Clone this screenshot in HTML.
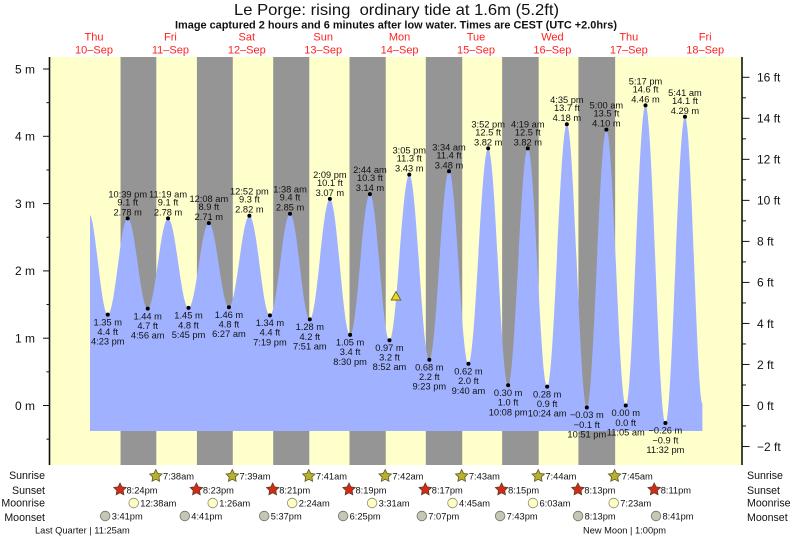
<!DOCTYPE html>
<html><head><meta charset="utf-8"><style>
html,body{margin:0;padding:0;background:#fff;}
svg{display:block;font-family:"Liberation Sans",Arial,sans-serif;}
.t{font-size:9.3px;fill:#111;text-anchor:middle;}
.e{font-size:9.3px;fill:#111;}
.ax{font-size:12px;fill:#111;}
.rl{font-size:10.6px;fill:#111;}
.d{font-size:11px;fill:#f22;text-anchor:middle;}
</style></head><body>
<svg width="793" height="539" viewBox="0 0 793 539" xmlns="http://www.w3.org/2000/svg">
<rect x="0" y="0" width="793" height="539" fill="#fff"/>
<text x="396.5" y="15" font-size="16" fill="#111" text-anchor="middle" textLength="325" lengthAdjust="spacingAndGlyphs">Le Porge: rising&#160; ordinary tide at 1.6m (5.2ft)</text>
<text x="396" y="28.7" font-size="10.6" font-weight="bold" fill="#111" text-anchor="middle" textLength="442" lengthAdjust="spacingAndGlyphs">Image captured 2 hours and 6 minutes after low water. Times are CEST (UTC +2.0hrs)</text>

<text class="d" x="94" y="40.7">Thu</text><text class="d" x="94" y="53.5">10–Sep</text>
<text class="d" x="170.4" y="40.7">Fri</text><text class="d" x="170.4" y="53.5">11–Sep</text>
<text class="d" x="246.8" y="40.7">Sat</text><text class="d" x="246.8" y="53.5">12–Sep</text>
<text class="d" x="323.2" y="40.7">Sun</text><text class="d" x="323.2" y="53.5">13–Sep</text>
<text class="d" x="399.6" y="40.7">Mon</text><text class="d" x="399.6" y="53.5">14–Sep</text>
<text class="d" x="476" y="40.7">Tue</text><text class="d" x="476" y="53.5">15–Sep</text>
<text class="d" x="552.4" y="40.7">Wed</text><text class="d" x="552.4" y="53.5">16–Sep</text>
<text class="d" x="628.8" y="40.7">Thu</text><text class="d" x="628.8" y="53.5">17–Sep</text>
<text class="d" x="705.2" y="40.7">Fri</text><text class="d" x="705.2" y="53.5">18–Sep</text>

<rect x="49.5" y="57" width="692.5" height="408" fill="#ffffcc"/>
<g fill="#959595">
<rect x="120.55" y="57" width="35.76" height="408"/>
<rect x="196.90" y="57" width="35.88" height="408"/>
<rect x="273.20" y="57" width="36.09" height="408"/>
<rect x="349.51" y="57" width="36.24" height="408"/>
<rect x="425.81" y="57" width="36.41" height="408"/>
<rect x="502.12" y="57" width="36.56" height="408"/>
<rect x="578.42" y="57" width="36.72" height="408"/>
</g>

<path fill="#a0b2ff" d="M90,431 L90,215 C95.3,219 101.29,314.64 107.76,314.64
C115.03,314.64 120.44,218.41 127.71,218.41
C135.00,218.41 140.43,308.59 147.72,308.59
C155.12,308.59 160.64,218.41 168.04,218.41
C175.50,218.41 181.06,307.91 188.52,307.91
C195.92,307.91 201.44,223.12 208.84,223.12
C216.16,223.12 221.63,307.24 228.95,307.24
C236.39,307.24 241.94,215.71 249.38,215.71
C256.86,215.71 262.44,315.32 269.92,315.32
C277.24,315.32 282.71,213.69 290.03,213.69
C297.24,213.69 302.61,319.36 309.82,319.36
C317.13,319.36 322.57,198.89 329.88,198.89
C337.24,198.89 342.74,334.83 350.10,334.83
C357.33,334.83 362.71,194.18 369.94,194.18
C377.05,194.18 382.36,340.22 389.47,340.22
C396.68,340.22 402.05,174.66 409.26,174.66
C416.57,174.66 422.01,359.74 429.32,359.74
C436.49,359.74 441.84,171.30 449.01,171.30
C456.08,171.30 461.36,363.77 468.43,363.77
C475.62,363.77 480.97,148.41 488.16,148.41
C495.43,148.41 500.85,385.31 508.12,385.31
C515.29,385.31 520.63,148.41 527.80,148.41
C534.85,148.41 540.12,386.66 547.17,386.66
C554.34,386.66 559.69,124.19 566.86,124.19
C574.13,124.19 579.54,407.52 586.81,407.52
C593.94,407.52 599.26,129.57 606.39,129.57
C613.44,129.57 618.71,405.5 625.76,405.5
C632.95,405.5 638.30,105.34 645.49,105.34
C652.74,105.34 658.14,423.0 665.39,423.0
C672.52,423.0 677.84,116.78 684.97,116.78
C691.6,116.78 696.6,401 702.4,403.5
L702.4,431 Z"/>

<line x1="49.5" y1="57" x2="49.5" y2="465" stroke="#111" stroke-width="1.6"/>
<line x1="742" y1="57" x2="742" y2="465" stroke="#111" stroke-width="1.6"/>
<g stroke="#111" stroke-width="1">
<line x1="43" y1="69.0" x2="49.5" y2="69.0"/><line x1="46.5" y1="102.65" x2="49.5" y2="102.65"/>
<line x1="43" y1="136.3" x2="49.5" y2="136.3"/><line x1="46.5" y1="169.95" x2="49.5" y2="169.95"/>
<line x1="43" y1="203.6" x2="49.5" y2="203.6"/><line x1="46.5" y1="237.25" x2="49.5" y2="237.25"/>
<line x1="43" y1="270.9" x2="49.5" y2="270.9"/><line x1="46.5" y1="304.55" x2="49.5" y2="304.55"/>
<line x1="43" y1="338.2" x2="49.5" y2="338.2"/><line x1="46.5" y1="371.85" x2="49.5" y2="371.85"/>
<line x1="43" y1="405.5" x2="49.5" y2="405.5"/><line x1="46.5" y1="439.15" x2="49.5" y2="439.15"/>

<line x1="742" y1="77.29" x2="749.5" y2="77.29"/><line x1="742" y1="97.81" x2="746" y2="97.81"/>
<line x1="742" y1="118.32" x2="749.5" y2="118.32"/><line x1="742" y1="138.83" x2="746" y2="138.83"/>
<line x1="742" y1="159.34" x2="749.5" y2="159.34"/><line x1="742" y1="179.86" x2="746" y2="179.86"/>
<line x1="742" y1="200.37" x2="749.5" y2="200.37"/><line x1="742" y1="220.88" x2="746" y2="220.88"/>
<line x1="742" y1="241.40" x2="749.5" y2="241.40"/><line x1="742" y1="261.91" x2="746" y2="261.91"/>
<line x1="742" y1="282.42" x2="749.5" y2="282.42"/><line x1="742" y1="302.94" x2="746" y2="302.94"/>
<line x1="742" y1="323.45" x2="749.5" y2="323.45"/><line x1="742" y1="343.96" x2="746" y2="343.96"/>
<line x1="742" y1="364.47" x2="749.5" y2="364.47"/><line x1="742" y1="384.99" x2="746" y2="384.99"/>
<line x1="742" y1="405.5" x2="749.5" y2="405.5"/><line x1="742" y1="426.01" x2="746" y2="426.01"/>
<line x1="742" y1="446.53" x2="749.5" y2="446.53"/>
</g>
<text class="ax" x="35" y="73.3" text-anchor="end">5 m</text>
<text class="ax" x="35" y="140.6" text-anchor="end">4 m</text>
<text class="ax" x="35" y="207.9" text-anchor="end">3 m</text>
<text class="ax" x="35" y="275.2" text-anchor="end">2 m</text>
<text class="ax" x="35" y="342.5" text-anchor="end">1 m</text>
<text class="ax" x="35" y="409.8" text-anchor="end">0 m</text>
<text class="ax" x="757" y="81.6">16 ft</text>
<text class="ax" x="757" y="122.6">14 ft</text>
<text class="ax" x="757" y="163.6">12 ft</text>
<text class="ax" x="757" y="204.7">10 ft</text>
<text class="ax" x="757" y="245.7">8 ft</text>
<text class="ax" x="757" y="286.7">6 ft</text>
<text class="ax" x="757" y="327.8">4 ft</text>
<text class="ax" x="757" y="368.8">2 ft</text>
<text class="ax" x="757" y="409.8">0 ft</text>
<text class="ax" x="757" y="450.8">−2 ft</text>

<g fill="#000">
<circle cx="107.76" cy="314.64" r="2"/><circle cx="127.71" cy="218.41" r="2"/>
<circle cx="147.72" cy="308.59" r="2"/><circle cx="168.04" cy="218.41" r="2"/>
<circle cx="188.52" cy="307.91" r="2"/><circle cx="208.84" cy="223.12" r="2"/>
<circle cx="228.95" cy="307.24" r="2"/><circle cx="249.38" cy="215.71" r="2"/>
<circle cx="269.92" cy="315.32" r="2"/><circle cx="290.03" cy="213.69" r="2"/>
<circle cx="309.82" cy="319.36" r="2"/><circle cx="329.88" cy="198.89" r="2"/>
<circle cx="350.10" cy="334.83" r="2"/><circle cx="369.94" cy="194.18" r="2"/>
<circle cx="389.47" cy="340.22" r="2"/><circle cx="409.26" cy="174.66" r="2"/>
<circle cx="429.32" cy="359.74" r="2"/><circle cx="449.01" cy="171.30" r="2"/>
<circle cx="468.43" cy="363.77" r="2"/><circle cx="488.16" cy="148.41" r="2"/>
<circle cx="508.12" cy="385.31" r="2"/><circle cx="527.80" cy="148.41" r="2"/>
<circle cx="547.17" cy="386.66" r="2"/><circle cx="566.86" cy="124.19" r="2"/>
<circle cx="586.81" cy="407.52" r="2"/><circle cx="606.39" cy="129.57" r="2"/>
<circle cx="625.76" cy="405.5" r="2"/><circle cx="645.49" cy="105.34" r="2"/>
<circle cx="665.39" cy="423.0" r="2"/><circle cx="684.97" cy="116.78" r="2"/>
</g>

<text class="t" x="127.71" y="197.4">10:39 pm</text><text class="t" x="127.71" y="205.4">9.1 ft</text><text class="t" x="127.71" y="215.4">2.78 m</text>
<text class="t" x="168.04" y="197.4">11:19 am</text><text class="t" x="168.04" y="205.4">9.1 ft</text><text class="t" x="168.04" y="215.4">2.78 m</text>
<text class="t" x="208.84" y="202.1">12:08 am</text><text class="t" x="208.84" y="210.1">8.9 ft</text><text class="t" x="208.84" y="220.1">2.71 m</text>
<text class="t" x="249.38" y="194.7">12:52 pm</text><text class="t" x="249.38" y="202.7">9.3 ft</text><text class="t" x="249.38" y="212.7">2.82 m</text>
<text class="t" x="290.03" y="192.7">1:38 am</text><text class="t" x="290.03" y="200.7">9.4 ft</text><text class="t" x="290.03" y="210.7">2.85 m</text>
<text class="t" x="329.88" y="177.9">2:09 pm</text><text class="t" x="329.88" y="185.9">10.1 ft</text><text class="t" x="329.88" y="195.9">3.07 m</text>
<text class="t" x="369.94" y="173.2">2:44 am</text><text class="t" x="369.94" y="181.2">10.3 ft</text><text class="t" x="369.94" y="191.2">3.14 m</text>
<text class="t" x="409.26" y="153.7">3:05 pm</text><text class="t" x="409.26" y="161.7">11.3 ft</text><text class="t" x="409.26" y="171.7">3.43 m</text>
<text class="t" x="449.01" y="150.3">3:34 am</text><text class="t" x="449.01" y="158.3">11.4 ft</text><text class="t" x="449.01" y="168.3">3.48 m</text>
<text class="t" x="488.16" y="127.4">3:52 pm</text><text class="t" x="488.16" y="135.4">12.5 ft</text><text class="t" x="488.16" y="145.4">3.82 m</text>
<text class="t" x="527.80" y="127.4">4:19 am</text><text class="t" x="527.80" y="135.4">12.5 ft</text><text class="t" x="527.80" y="145.4">3.82 m</text>
<text class="t" x="566.86" y="103.2">4:35 pm</text><text class="t" x="566.86" y="111.2">13.7 ft</text><text class="t" x="566.86" y="121.2">4.18 m</text>
<text class="t" x="606.39" y="108.6">5:00 am</text><text class="t" x="606.39" y="116.6">13.5 ft</text><text class="t" x="606.39" y="126.6">4.10 m</text>
<text class="t" x="645.49" y="84.3">5:17 pm</text><text class="t" x="645.49" y="92.3">14.6 ft</text><text class="t" x="645.49" y="102.3">4.46 m</text>
<text class="t" x="684.97" y="95.8">5:41 am</text><text class="t" x="684.97" y="103.8">14.1 ft</text><text class="t" x="684.97" y="113.8">4.29 m</text>

<text class="t" x="107.76" y="325.3">1.35 m</text><text class="t" x="107.76" y="335.0">4.4 ft</text><text class="t" x="107.76" y="344.6">4:23 pm</text>
<text class="t" x="147.72" y="319.3">1.44 m</text><text class="t" x="147.72" y="329.0">4.7 ft</text><text class="t" x="147.72" y="338.6">4:56 am</text>
<text class="t" x="188.52" y="318.6">1.45 m</text><text class="t" x="188.52" y="328.3">4.8 ft</text><text class="t" x="188.52" y="337.9">5:45 pm</text>
<text class="t" x="228.95" y="317.9">1.46 m</text><text class="t" x="228.95" y="327.6">4.8 ft</text><text class="t" x="228.95" y="337.2">6:27 am</text>
<text class="t" x="269.92" y="326.0">1.34 m</text><text class="t" x="269.92" y="335.7">4.4 ft</text><text class="t" x="269.92" y="345.3">7:19 pm</text>
<text class="t" x="309.82" y="330.1">1.28 m</text><text class="t" x="309.82" y="339.8">4.2 ft</text><text class="t" x="309.82" y="349.4">7:51 am</text>
<text class="t" x="350.10" y="345.5">1.05 m</text><text class="t" x="350.10" y="355.2">3.4 ft</text><text class="t" x="350.10" y="364.8">8:30 pm</text>
<text class="t" x="389.47" y="350.9">0.97 m</text><text class="t" x="389.47" y="360.6">3.2 ft</text><text class="t" x="389.47" y="370.2">8:52 am</text>
<text class="t" x="429.32" y="370.4">0.68 m</text><text class="t" x="429.32" y="380.1">2.2 ft</text><text class="t" x="429.32" y="389.7">9:23 pm</text>
<text class="t" x="468.43" y="374.5">0.62 m</text><text class="t" x="468.43" y="384.2">2.0 ft</text><text class="t" x="468.43" y="393.8">9:40 am</text>
<text class="t" x="508.12" y="396.0">0.30 m</text><text class="t" x="508.12" y="405.7">1.0 ft</text><text class="t" x="508.12" y="415.3">10:08 pm</text>
<text class="t" x="547.17" y="397.4">0.28 m</text><text class="t" x="547.17" y="407.1">0.9 ft</text><text class="t" x="547.17" y="416.7">10:24 am</text>
<text class="t" x="586.81" y="418.2">−0.03 m</text><text class="t" x="586.81" y="427.9">−0.1 ft</text><text class="t" x="586.81" y="437.5">10:51 pm</text>
<text class="t" x="625.76" y="416.2">0.00 m</text><text class="t" x="625.76" y="425.9">0.0 ft</text><text class="t" x="625.76" y="435.5">11:05 am</text>
<text class="t" x="665.39" y="433.7">−0.26 m</text><text class="t" x="665.39" y="443.4">−0.9 ft</text><text class="t" x="665.39" y="453.0">11:32 pm</text>

<polygon points="396,291.5 400.8,300 391.2,300" fill="#e8d820" stroke="#6a6420" stroke-width="0.9"/>

<text class="rl" x="45" y="479.1" text-anchor="end">Sunrise</text>
<text class="rl" x="45" y="493.8" text-anchor="end">Sunset</text>
<text class="rl" x="45" y="506.5" text-anchor="end">Moonrise</text>
<text class="rl" x="45" y="521.1" text-anchor="end">Moonset</text>
<text class="rl" x="747" y="479.1">Sunrise</text>
<text class="rl" x="747" y="493.8">Sunset</text>
<text class="rl" x="747" y="506.5">Moonrise</text>
<text class="rl" x="747" y="521.1">Moonset</text>

<g fill="#b8b030" stroke="#5a5520" stroke-width="0.8">
<polygon transform="translate(155.8,476)" points="0,-6.5 1.9,-2.6 6.2,-2 3.1,1 3.8,5.3 0,3.3 -3.8,5.3 -3.1,1 -6.2,-2 -1.9,-2.6"/>
<polygon transform="translate(232.3,476)" points="0,-6.5 1.9,-2.6 6.2,-2 3.1,1 3.8,5.3 0,3.3 -3.8,5.3 -3.1,1 -6.2,-2 -1.9,-2.6"/>
<polygon transform="translate(308.8,476)" points="0,-6.5 1.9,-2.6 6.2,-2 3.1,1 3.8,5.3 0,3.3 -3.8,5.3 -3.1,1 -6.2,-2 -1.9,-2.6"/>
<polygon transform="translate(385.2,476)" points="0,-6.5 1.9,-2.6 6.2,-2 3.1,1 3.8,5.3 0,3.3 -3.8,5.3 -3.1,1 -6.2,-2 -1.9,-2.6"/>
<polygon transform="translate(461.7,476)" points="0,-6.5 1.9,-2.6 6.2,-2 3.1,1 3.8,5.3 0,3.3 -3.8,5.3 -3.1,1 -6.2,-2 -1.9,-2.6"/>
<polygon transform="translate(538.2,476)" points="0,-6.5 1.9,-2.6 6.2,-2 3.1,1 3.8,5.3 0,3.3 -3.8,5.3 -3.1,1 -6.2,-2 -1.9,-2.6"/>
<polygon transform="translate(614.6,476)" points="0,-6.5 1.9,-2.6 6.2,-2 3.1,1 3.8,5.3 0,3.3 -3.8,5.3 -3.1,1 -6.2,-2 -1.9,-2.6"/>
</g>
<text class="e" x="163" y="479.3">7:38am</text>
<text class="e" x="239.5" y="479.3">7:39am</text>
<text class="e" x="316" y="479.3">7:41am</text>
<text class="e" x="392.4" y="479.3">7:42am</text>
<text class="e" x="468.9" y="479.3">7:43am</text>
<text class="e" x="545.4" y="479.3">7:44am</text>
<text class="e" x="621.8" y="479.3">7:45am</text>

<g fill="#d42a18" stroke="#5a3a20" stroke-width="0.8">
<polygon transform="translate(120,489.5)" points="0,-6.5 1.9,-2.6 6.2,-2 3.1,1 3.8,5.3 0,3.3 -3.8,5.3 -3.1,1 -6.2,-2 -1.9,-2.6"/>
<polygon transform="translate(196.4,489.5)" points="0,-6.5 1.9,-2.6 6.2,-2 3.1,1 3.8,5.3 0,3.3 -3.8,5.3 -3.1,1 -6.2,-2 -1.9,-2.6"/>
<polygon transform="translate(272.7,489.5)" points="0,-6.5 1.9,-2.6 6.2,-2 3.1,1 3.8,5.3 0,3.3 -3.8,5.3 -3.1,1 -6.2,-2 -1.9,-2.6"/>
<polygon transform="translate(349,489.5)" points="0,-6.5 1.9,-2.6 6.2,-2 3.1,1 3.8,5.3 0,3.3 -3.8,5.3 -3.1,1 -6.2,-2 -1.9,-2.6"/>
<polygon transform="translate(425.3,489.5)" points="0,-6.5 1.9,-2.6 6.2,-2 3.1,1 3.8,5.3 0,3.3 -3.8,5.3 -3.1,1 -6.2,-2 -1.9,-2.6"/>
<polygon transform="translate(501.6,489.5)" points="0,-6.5 1.9,-2.6 6.2,-2 3.1,1 3.8,5.3 0,3.3 -3.8,5.3 -3.1,1 -6.2,-2 -1.9,-2.6"/>
<polygon transform="translate(577.9,489.5)" points="0,-6.5 1.9,-2.6 6.2,-2 3.1,1 3.8,5.3 0,3.3 -3.8,5.3 -3.1,1 -6.2,-2 -1.9,-2.6"/>
<polygon transform="translate(654.2,489.5)" points="0,-6.5 1.9,-2.6 6.2,-2 3.1,1 3.8,5.3 0,3.3 -3.8,5.3 -3.1,1 -6.2,-2 -1.9,-2.6"/>
</g>
<text class="e" x="126.5" y="493.6">8:24pm</text>
<text class="e" x="202.9" y="493.6">8:23pm</text>
<text class="e" x="279.2" y="493.6">8:21pm</text>
<text class="e" x="355.5" y="493.6">8:19pm</text>
<text class="e" x="431.8" y="493.6">8:17pm</text>
<text class="e" x="508.1" y="493.6">8:15pm</text>
<text class="e" x="584.4" y="493.6">8:13pm</text>
<text class="e" x="660.7" y="493.6">8:11pm</text>

<g fill="#ffffc4" stroke="#8a8a70" stroke-width="0.8">
<circle cx="133.7" cy="503" r="4.8"/><circle cx="212.7" cy="503" r="4.8"/>
<circle cx="292.2" cy="503" r="4.8"/><circle cx="372.1" cy="503" r="4.8"/>
<circle cx="452.5" cy="503" r="4.8"/><circle cx="533" cy="503" r="4.8"/>
<circle cx="613.7" cy="503" r="4.8"/>
</g>
<text class="e" x="140.2" y="506.6">12:38am</text>
<text class="e" x="219.2" y="506.6">1:26am</text>
<text class="e" x="298.7" y="506.6">2:24am</text>
<text class="e" x="378.6" y="506.6">3:31am</text>
<text class="e" x="459" y="506.6">4:45am</text>
<text class="e" x="539.5" y="506.6">6:03am</text>
<text class="e" x="620.2" y="506.6">7:23am</text>

<g fill="#c6c6b4" stroke="#707068" stroke-width="0.8">
<circle cx="105.2" cy="516" r="4.8"/><circle cx="184.8" cy="516" r="4.8"/>
<circle cx="264.2" cy="516" r="4.8"/><circle cx="343.1" cy="516" r="4.8"/>
<circle cx="421.8" cy="516" r="4.8"/><circle cx="500.1" cy="516" r="4.8"/>
<circle cx="578.1" cy="516" r="4.8"/><circle cx="656" cy="516" r="4.8"/>
</g>
<text class="e" x="111.7" y="519.6">3:41pm</text>
<text class="e" x="191.3" y="519.6">4:41pm</text>
<text class="e" x="270.7" y="519.6">5:37pm</text>
<text class="e" x="349.6" y="519.6">6:25pm</text>
<text class="e" x="428.3" y="519.6">7:07pm</text>
<text class="e" x="506.6" y="519.6">7:43pm</text>
<text class="e" x="584.6" y="519.6">8:13pm</text>
<text class="e" x="662.5" y="519.6">8:41pm</text>

<text class="e" x="35" y="533.5">Last Quarter | 11:25am</text>
<text class="e" x="583" y="533.5">New Moon | 1:00pm</text>
</svg>
</body></html>
